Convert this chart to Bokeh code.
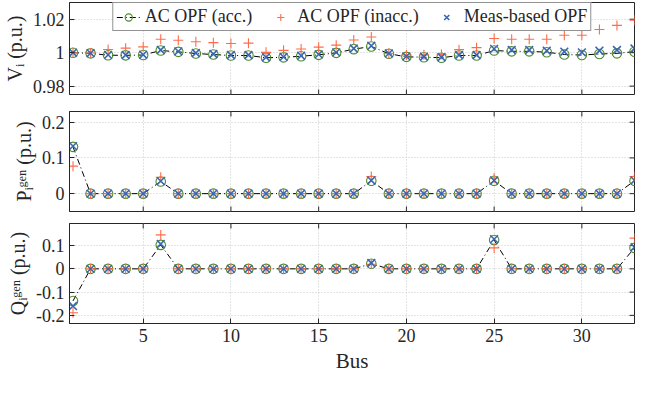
import math
from bokeh.plotting import figure
from bokeh.models import FixedTicker, Range1d, Legend, LegendItem
from bokeh.layouts import column
from bokeh.embed import file_html
from bokeh.resources import INLINE

# ---------------- data ----------------
bus = list(range(1, 34))

V_acc = [1.0000, 0.9996, 0.9985, 0.9984, 0.9986, 1.0013, 1.0005, 0.9995, 0.9989, 0.9983, 0.9983,
         0.9970, 0.9972, 0.9979, 0.9987, 0.9999, 1.0021, 1.0037, 0.9994, 0.9975, 0.9973, 0.9970,
         0.9983, 0.9983, 1.0013, 1.0008, 1.0008, 1.0003, 0.9989, 0.9986, 0.9992, 0.9996, 1.0006]
V_inacc = [1.0000, 0.9998, 1.0019, 1.0027, 1.0035, 1.0080, 1.0074, 1.0065, 1.0060, 1.0055, 1.0057,
           1.0002, 1.0014, 1.0022, 1.0033, 1.0045, 1.0076, 1.0094, 0.9995, 0.9986, 0.9987, 0.9990,
           1.0018, 1.0030, 1.0085, 1.0080, 1.0080, 1.0080, 1.0104, 1.0104, 1.0139, 1.0163, 1.0194]
V_meas = [1.0000, 0.9997, 0.9987, 0.9986, 0.9988, 1.0016, 1.0008, 0.9998, 0.9992, 0.9986, 0.9986,
          0.9973, 0.9975, 0.9982, 0.9990, 1.0002, 1.0025, 1.0041, 0.9996, 0.9978, 0.9976, 0.9973,
          0.9986, 0.9986, 1.0023, 1.0016, 1.0016, 1.0012, 1.0006, 1.0002, 1.0012, 1.0016, 1.0025]

P_acc = [0.131, 0, 0, 0, 0, 0.034, 0, 0, 0, 0, 0, 0, 0, 0, 0, 0, 0, 0.036, 0, 0, 0, 0, 0, 0,
         0.036, 0, 0, 0, 0, 0, 0, 0, 0.036]
P_inacc = [0.077, 0, 0, 0, 0, 0.046, 0, 0, 0, 0, 0, 0, 0, 0, 0, 0, 0, 0.048, 0, 0, 0, 0, 0, 0,
           0.044, 0, 0, 0, 0, 0, 0, 0, 0.048]
P_meas = [0.133, 0, 0, 0, 0, 0.035, 0, 0, 0, 0, 0, 0, 0, 0, 0, 0, 0, 0.037, 0, 0, 0, 0, 0, 0,
          0.037, 0, 0, 0, 0, 0, 0, 0, 0.037]

Q_acc = [-0.138, 0, 0, 0, 0, 0.103, 0, 0, 0, 0, 0, 0, 0, 0, 0, 0, 0, 0.022, 0, 0, 0, 0, 0, 0,
         0.124, 0, 0, 0, 0, 0, 0, 0, 0.090]
Q_inacc = [-0.189, 0, 0, 0, 0, 0.146, 0, 0, 0, 0, 0, 0, 0, 0, 0, 0, 0, 0.020, 0, 0, 0, 0, 0, 0,
           0.090, 0, 0, 0, 0, 0, 0, 0, 0.132]
Q_meas = [-0.160, 0, 0, 0, 0, 0.107, 0, 0, 0, 0, 0, 0, 0, 0, 0, 0, 0, 0.025, 0, 0, 0, 0, 0, 0,
          0.128, 0, 0, 0, 0, 0, 0, 0, 0.093]

x_ticks = [5, 10, 15, 20, 25, 30]
V_ticks = [0.98, 1.0, 1.02]
V_tick_labels = ["0.98", "1", "1.02"]
P_ticks = [0.0, 0.1, 0.2]
P_tick_labels = ["0", "0.1", "0.2"]
Q_ticks = [-0.2, -0.1, 0.0, 0.1]
Q_tick_labels = ["-0.2", "-0.1", "0", "0.1"]

series_names = ["AC OPF (acc.)", "AC OPF (inacc.)", "Meas-based OPF"]

# ---------------- style ----------------
FONT = "Liberation Serif"
AX = "#262626"
GREEN = "#4e8a2c"
ORANGE = "#ff6b4a"
BLUE = "#3a68b0"
W = 637
ML, MR = 64, 3
X0, X1 = 0.8, 33


def style_axis(ax, ticks, labels):
    ax.ticker = FixedTicker(ticks=ticks)
    ax.axis_line_color = AX
    ax.major_tick_line_color = AX
    ax.major_tick_in = 5
    ax.major_tick_out = 0
    ax.minor_tick_line_color = None
    ax.major_label_text_font = FONT
    ax.major_label_text_font_size = "18px"
    ax.major_label_text_color = AX
    ax.major_label_standoff = 5
    ax.major_label_overrides = {t: l for t, l in zip(ticks, labels)}


def edge_ticks(p, xs, ys, vertical):
    # inward tick marks on the box edges (half of each dash is clipped by the frame)
    p.scatter(xs, ys, marker="dash", size=10, angle=(math.pi / 2 if vertical else 0),
              line_color=AX, line_width=1)


def make_fig(height, top, bottom, ylim, yticks, ylabels, ylabel, show_x, xlabel=None):
    p = figure(width=W, height=height, output_backend="svg", toolbar_location=None,
               x_range=Range1d(X0, X1), y_range=Range1d(*ylim),
               min_border_left=ML, min_border_right=MR,
               min_border_top=top, min_border_bottom=bottom)
    p.background_fill_color = "white"
    p.border_fill_color = "white"
    p.outline_line_color = AX
    p.outline_line_width = 1
    style_axis(p.yaxis[0], yticks, ylabels)
    p.yaxis[0].axis_label = ylabel
    p.yaxis[0].axis_label_text_font = FONT
    p.yaxis[0].axis_label_text_font_size = "20px"
    p.yaxis[0].axis_label_text_font_style = "normal"
    p.yaxis[0].axis_label_text_color = AX
    p.yaxis[0].axis_label_standoff = 4
    if show_x:
        style_axis(p.xaxis[0], x_ticks, [str(t) for t in x_ticks])
        p.xaxis[0].axis_label = xlabel
        p.xaxis[0].axis_label_text_font = FONT
        p.xaxis[0].axis_label_text_font_size = "21px"
        p.xaxis[0].axis_label_text_font_style = "normal"
        p.xaxis[0].axis_label_text_color = AX
        p.xaxis[0].axis_label_standoff = 4
    else:
        p.xaxis.visible = False
        edge_ticks(p, x_ticks, [ylim[0]] * len(x_ticks), True)
    p.xgrid[0].ticker = FixedTicker(ticks=x_ticks)
    p.ygrid[0].ticker = FixedTicker(ticks=yticks)
    edge_ticks(p, x_ticks, [ylim[1]] * len(x_ticks), True)
    edge_ticks(p, [X1] * len(yticks), yticks, False)
    for g in (p.xgrid[0], p.ygrid[0]):
        g.grid_line_color = "#c8c8c8"
        g.grid_line_dash = "1 2"
        g.grid_line_width = 1
    return p


def add_series(p, acc, inacc, meas):
    l = p.line(bus, acc, line_color="black", line_width=1, line_dash="6 3 1 3")
    c = p.scatter(bus, acc, marker="circle", size=9.5, fill_color=None,
                  line_color=GREEN, line_width=1.1)
    pl = p.scatter(bus, inacc, marker="cross", size=10, line_color=ORANGE, line_width=1.1)
    xr = p.scatter(bus, meas, marker="x", size=11, line_color=BLUE, line_width=1.6)
    return l, c, pl, xr


p1 = make_fig(102, 2, 8, (0.975, 1.03), V_ticks, V_tick_labels, "Vᵢ (p.u.)", False)
l, c, pl, xr = add_series(p1, V_acc, V_inacc, V_meas)
legend = Legend(items=[LegendItem(label=series_names[0], renderers=[l, c]),
                       LegendItem(label=series_names[1], renderers=[pl]),
                       LegendItem(label=series_names[2], renderers=[xr])],
                location="top_center", orientation="horizontal")
legend.border_line_color = AX
legend.border_line_width = 1
legend.background_fill_alpha = 1
legend.label_text_font = FONT
legend.label_text_font_size = "18px"
legend.label_text_color = AX
legend.glyph_width = 24
legend.glyph_height = 18
legend.label_standoff = 5
legend.spacing = 16
legend.padding = 3
legend.margin = 0
p1.add_layout(legend)

p2 = make_fig(115, 9, 6, (-0.05, 0.23), P_ticks, P_tick_labels, "Pᵢᵍᵉⁿ (p.u.)", False)
add_series(p2, P_acc, P_inacc, P_meas)

p3 = make_fig(160, 6, 54, (-0.235, 0.195), Q_ticks, Q_tick_labels, "Qᵢᵍᵉⁿ (p.u.)", True, "Bus")
add_series(p3, Q_acc, Q_inacc, Q_meas)

layout = column(p1, p2, p3, spacing=0)
open("out.html", "w").write(file_html(layout, INLINE))
